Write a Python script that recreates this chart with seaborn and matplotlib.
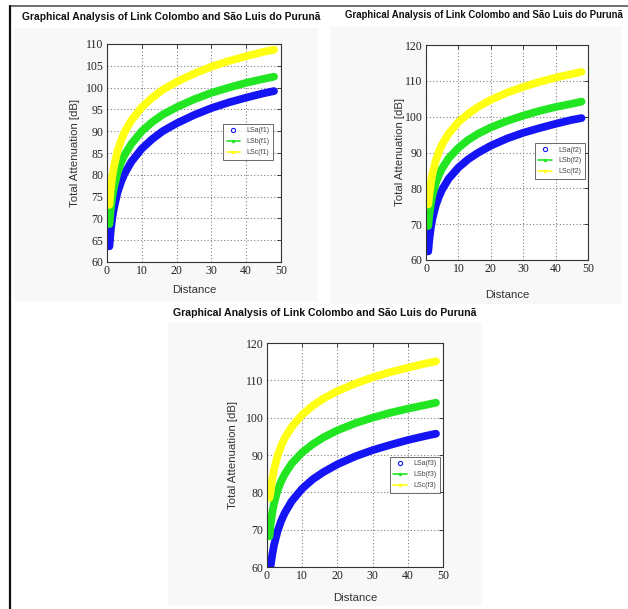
import numpy as np
import pandas as pd
import matplotlib
matplotlib.use("Agg")
import matplotlib.pyplot as plt
from matplotlib.lines import Line2D
from matplotlib.patches import Rectangle
import seaborn as sns

sns.set_style("white")
plt.rcParams['font.family'] = ['Liberation Sans', 'DejaVu Sans']

TITLE = "Graphical Analysis of Link Colombo and São Luis do Purunã"
XLABEL = "Distance"
YLABEL = "Total Attenuation [dB]"

distance = [0.7, 1, 1.5, 2, 3, 4, 5, 7, 10, 13, 16, 20, 25, 30, 35, 40, 45, 48]

# Panel 1 (f1)
p1_a = [63.6, 66.6, 70.0, 72.4, 75.9, 78.3, 80.2, 83.0, 86.0, 88.2, 90.0, 91.8, 93.7, 95.3, 96.6, 97.7, 98.7, 99.2]
p1_b = [68.7, 71.6, 74.8, 77.1, 80.4, 82.7, 84.5, 87.1, 90.0, 92.1, 93.8, 95.5, 97.3, 98.8, 100.0, 101.1, 102.0, 102.5]
p1_c = [73.1, 76.1, 79.5, 81.9, 85.4, 87.8, 89.7, 92.5, 95.5, 97.7, 99.5, 101.3, 103.2, 104.8, 106.1, 107.2, 108.2, 108.7]
# Panel 2 (f2)
p2_a = [62.4, 65.5, 69.1, 71.6, 75.2, 77.7, 79.7, 82.7, 85.8, 88.1, 89.9, 91.9, 93.9, 95.5, 96.8, 98.0, 99.1, 99.6]
p2_b = [69.5, 72.4, 75.7, 78.1, 81.4, 83.8, 85.6, 88.4, 91.3, 93.5, 95.2, 97.0, 98.8, 100.3, 101.6, 102.7, 103.6, 104.2]
p2_c = [75.5, 77.9, 81.5, 84.1, 87.7, 90.3, 92.3, 95.3, 98.5, 100.8, 102.7, 104.7, 106.7, 108.3, 109.7, 110.9, 111.9, 112.5]
# Panel 3 (f3)
p3_a = [58.6, 60.2, 63.3, 65.9, 69.6, 72.3, 74.4, 77.6, 81.0, 83.5, 85.4, 87.5, 89.6, 91.3, 92.7, 94.0, 95.1, 95.7]
p3_b = [68.2, 71.2, 74.6, 77.1, 80.5, 82.9, 84.8, 87.7, 90.7, 92.9, 94.7, 96.6, 98.5, 100.0, 101.3, 102.4, 103.4, 104.0]
p3_c = [78.5, 80.0, 83.5, 86.1, 89.8, 92.4, 94.5, 97.5, 100.8, 103.2, 105.1, 107.1, 109.1, 110.8, 112.2, 113.4, 114.5, 115.1]

labels1 = ["LSa(f1)", "LSb(f1)", "LSc(f1)"]
labels2 = ["LSa(f2)", "LSb(f2)", "LSc(f2)"]
labels3 = ["LSa(f3)", "LSb(f3)", "LSc(f3)"]

yticks1 = [60, 65, 70, 75, 80, 85, 90, 95, 100, 105, 110]
yticks23 = [60, 70, 80, 90, 100, 110, 120]
xticks = [0, 10, 20, 30, 40, 50]

colors = ["#1414f5", "#22e622", "#ffff14"]

W, H = 628, 609
fig = plt.figure(figsize=(W / 100, H / 100), dpi=100)
fig.patch.set_facecolor("white")

def frac(x0, y0, x1, y1):
    return [x0 / W, 1 - y1 / H, (x1 - x0) / W, (y1 - y0) / H]

# faint panel backgrounds and page border
for (x0, y0, x1, y1) in [(14, 28, 318, 302), (330, 26, 622, 304), (168, 322, 482, 606)]:
    fig.add_artist(Rectangle((x0 / W, 1 - y1 / H), (x1 - x0) / W, (y1 - y0) / H,
                             transform=fig.transFigure, facecolor="#f8f8f8",
                             edgecolor="none", zorder=-5))
fig.add_artist(Line2D([10 / W, 1.0], [1 - 6 / H, 1 - 6 / H], transform=fig.transFigure,
                      color="#555555", lw=1.2, zorder=-4))
fig.add_artist(Line2D([10 / W, 10 / W], [1 - 6 / H, 0.0], transform=fig.transFigure,
                      color="#111111", lw=1.6, zorder=-4))

panels = [
    dict(rect=frac(107, 44, 281, 262), series=[p1_a, p1_b, p1_c], labels=labels1,
         ylim=(60, 110), yticks=yticks1, leg=(0.667, 0.633),
         title=(22, 17, "left", 7.35), ylab_x=75, xlab_y=290),
    dict(rect=frac(426, 45, 588, 260), series=[p2_a, p2_b, p2_c], labels=labels2,
         ylim=(60, 120), yticks=yticks23, leg=(0.673, 0.544),
         title=(484, 15, "center", 6.95), ylab_x=400, xlab_y=295),
    dict(rect=frac(267, 343, 443, 567), series=[p3_a, p3_b, p3_c], labels=labels3,
         ylim=(60, 120), yticks=yticks23, leg=(0.699, 0.491),
         title=(325, 313, "center", 7.6), ylab_x=233, xlab_y=598),
]

for p in panels:
    ax = fig.add_axes(p["rect"])
    ax.set_zorder(2)
    rows = []
    for lab, vals in zip(p["labels"], p["series"]):
        for d, v in zip(distance, vals):
            rows.append({"Distance": d, "Attenuation": v, "series": lab})
    df = pd.DataFrame(rows)
    sns.lineplot(data=df, x="Distance", y="Attenuation", hue="series",
                 palette=dict(zip(p["labels"], colors)), linewidth=5.6,
                 legend=False, ax=ax, solid_capstyle="round", clip_on=True)
    ax.set_xlim(0, 50)
    ax.set_ylim(*p["ylim"])
    ax.set_xticks(xticks)
    ax.set_yticks(p["yticks"])
    ax.set_facecolor("white")
    ax.grid(True, linestyle=(0, (1, 2)), color="#808080", linewidth=0.8)
    ax.tick_params(direction="in", length=3, width=0.6, top=True, right=True,
                   labelsize=8.5, pad=2.5, colors="#222222")
    for t in ax.get_xticklabels() + ax.get_yticklabels():
        t.set_fontfamily("Liberation Serif")
    for s in ax.spines.values():
        s.set_color("#333333")
        s.set_linewidth(0.8)
    ax.set_xlabel("")
    ax.set_ylabel("")
    pos = ax.get_position()
    fig.text(p["ylab_x"] / W, pos.y0 + pos.height / 2, YLABEL, rotation=90,
             ha="center", va="center", fontsize=8.2, color="#333333")
    fig.text(pos.x0 + pos.width / 2, 1 - p["xlab_y"] / H, XLABEL,
             ha="center", va="center", fontsize=8.2, color="#333333")
    tx, ty, ha, fs = p["title"]
    fig.text(tx / W, 1 - ty / H, TITLE, ha=ha, va="center", fontsize=fs,
             fontweight="bold", color="#111111")
    handles = [
        Line2D([], [], color=colors[0], marker="o", markersize=3, markerfacecolor="none",
               linestyle="none", markeredgewidth=0.8),
        Line2D([], [], color=colors[1], marker=".", markersize=3, linewidth=1.2),
        Line2D([], [], color=colors[2], marker=".", markersize=3, linewidth=1.2),
    ]
    leg = ax.legend(handles, p["labels"], loc="upper left", bbox_to_anchor=p["leg"],
                    fontsize=5, frameon=True, fancybox=False, borderpad=0.5,
                    handlelength=2.0, labelspacing=0.55, handletextpad=0.8,
                    borderaxespad=0)
    leg.get_frame().set_edgecolor("#444444")
    leg.get_frame().set_linewidth(0.7)
    for t in leg.get_texts():
        t.set_color("#444444")

fig.savefig("out.png", dpi=100)
